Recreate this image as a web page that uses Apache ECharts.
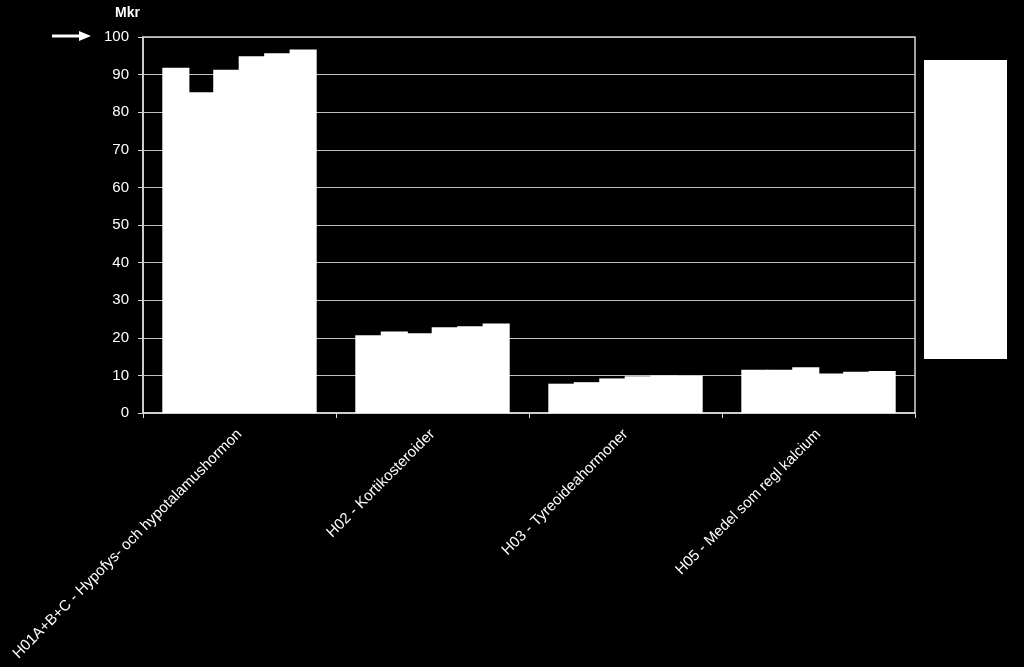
<!DOCTYPE html>
<html>
<head>
<meta charset="utf-8">
<script src="https://cdn.jsdelivr.net/npm/echarts@6/dist/echarts.min.js"></script>
<style>
  html, body { margin: 0; padding: 0; background: #000; }
  #chart { width: 1024px; height: 667px; }
</style>
</head>
<body>
<div id="chart"></div>
<script>
// kategorier och värden (Mkr), sex serier per grupp
var categories = [
  'H01A+B+C - Hypofys- och hypotalamushormon',
  'H02 - Kortikosteroider',
  'H03 - Tyreoideahormoner',
  'H05 - Medel som regl kalcium'
];
var s1 = [91.8, 20.7, 7.8, 11.5];
var s2 = [85.3, 21.7, 8.2, 11.5];
var s3 = [91.3, 21.2, 9.2, 12.2];
var s4 = [94.9, 22.8, 9.8, 10.5];
var s5 = [95.7, 23.1, 10.0, 11.0];
var s6 = [96.7, 23.8, 9.9, 11.2];
var yTicks = [0, 10, 20, 30, 40, 50, 60, 70, 80, 90, 100];

var seriesData = [s1, s2, s3, s4, s5, s6];
var font = 'Liberation Sans, Arial, sans-serif';

var myChart = echarts.init(document.getElementById('chart'));
myChart.setOption({
  backgroundColor: '#000',
  animation: false,
  grid: { left: 143, right: 109, top: 37, bottom: 254, containLabel: false,
          show: true, borderColor: '#d9d9d9', borderWidth: 1.5 },
  xAxis: {
    type: 'category',
    data: categories,
    axisLine: { lineStyle: { color: '#d9d9d9', width: 1.5 } },
    axisTick: { show: true, alignWithLabel: false, length: 5, lineStyle: { color: '#d9d9d9' } },
    axisLabel: {
      interval: 0, rotate: 45, color: '#fff', fontFamily: font, fontSize: 15, margin: 19
    }
  },
  yAxis: {
    type: 'value',
    min: yTicks[0],
    max: yTicks[yTicks.length - 1],
    interval: 10,
    axisLine: { show: true, lineStyle: { color: '#d9d9d9', width: 1.5 } },
    axisTick: { show: true, length: 5, lineStyle: { color: '#d9d9d9' } },
    splitLine: { lineStyle: { color: '#bfbfbf', width: 1 } },
    axisLabel: { color: '#fff', fontFamily: font, fontSize: 15, margin: 14 }
  },
  series: seriesData.map(function (d, i) {
    return {
      type: 'bar',
      name: 'S' + (i + 1),
      data: d,
      barGap: '-6%',   // liten överlappning så att inga skarvar syns
      barCategoryGap: '20%',
      itemStyle: { color: '#fff' }
    };
  }),
  graphic: [
    { type: 'text', left: 115, top: 6,
      style: { text: 'Mkr', fill: '#fff', font: 'bold 14px ' + font } },
    { type: 'line', shape: { x1: 52, y1: 36, x2: 80, y2: 36 },
      style: { stroke: '#fff', lineWidth: 3 } },
    { type: 'polygon', shape: { points: [[79, 31], [91, 36], [79, 41]] },
      style: { fill: '#fff' } },
    { type: 'rect', shape: { x: 924, y: 60, width: 83, height: 299 },
      style: { fill: '#fff' } }
  ]
});
</script>
</body>
</html>
